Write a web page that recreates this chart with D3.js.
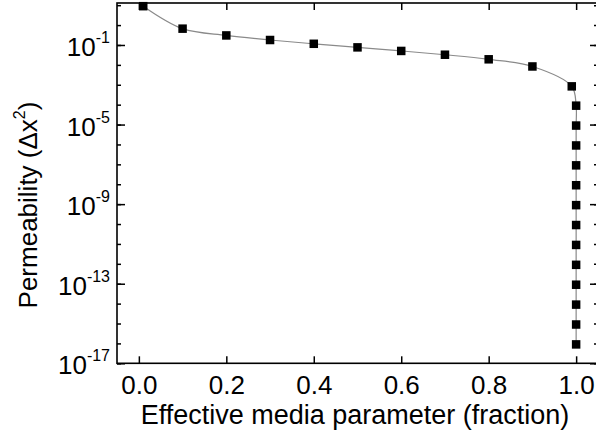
<!DOCTYPE html>
<html>
<head>
<meta charset="utf-8">
<script src="https://cdn.jsdelivr.net/npm/d3@7"></script>
<style>
body { margin: 0; background: #fff; }
text { font-family: Arial, "Liberation Sans", sans-serif; fill: #000; }
</style>
</head>
<body>
<div id="chart"></div>
<script>
var widthPage = 596;
var heightPage = 437;

// data
var fraction = [0.01, 0.1, 0.2, 0.3, 0.4, 0.5, 0.6, 0.7, 0.8, 0.9, 0.99,
                1, 1, 1, 1, 1, 1, 1, 1, 1, 1, 1, 1, 1];
var logPerm = [0.95, -0.18, -0.52, -0.75, -0.94, -1.12, -1.3, -1.49, -1.72, -2.08, -3.08,
               -4.05, -5.05, -6.05, -7.05, -8.05, -9.05, -10.05, -11.05, -12.05, -13.05, -14.05, -15.05, -16.05];
var xTicks = [0, 0.2, 0.4, 0.6, 0.8, 1.0];
var yMajor = [-1, -5, -9, -13, -17];
var yMinor = d3.range(-17, 2);

var plot = d3.select("#chart").append("svg").attr("width", widthPage).attr("height", heightPage);

var x = d3.scaleLinear().domain([-0.05, 1.05]).range([117, 598]);
var y = d3.scaleLog().domain([1e-17, Math.pow(10, 1.11)]).range([363.3, 3]);

var data = fraction.map(function(f, i){ return {x: f, y: Math.pow(10, logPerm[i])}; });

// curve
var line = d3.line().x(d => x(d.x)).y(d => y(d.y)).curve(d3.curveCatmullRom.alpha(0.5));
plot.append("path").datum(data).attr("d", line)
    .attr("fill", "none").attr("stroke", "#8a8a8a").attr("stroke-width", 1.2);

// markers
plot.selectAll("rect.pt").data(data).enter().append("rect").classed("pt", true)
    .attr("x", d => x(d.x) - 4.25).attr("y", d => y(d.y) - 4.25)
    .attr("width", 8.5).attr("height", 8.5).attr("fill", "#000");

// frame
plot.append("rect").attr("x", x.range()[0]).attr("y", y.range()[1])
    .attr("width", x.range()[1] - x.range()[0]).attr("height", y.range()[0] - y.range()[1])
    .attr("fill", "none").attr("stroke", "#000").attr("stroke-width", 1.6);

// x ticks: bottom and top, pointing inward
var xb = plot.append("g").attr("transform", `translate(0,${y.range()[0]})`)
    .call(d3.axisBottom(x).tickValues(xTicks).tickSizeInner(-7).tickSizeOuter(0).tickPadding(12).tickFormat(d3.format(".1f")));
var xt = plot.append("g").attr("transform", `translate(0,${y.range()[1]})`)
    .call(d3.axisTop(x).tickValues(xTicks).tickSizeInner(-7).tickSizeOuter(0).tickFormat(""));

// y ticks: left and right
var yl = plot.append("g").attr("transform", `translate(${x.range()[0]},0)`)
    .call(d3.axisLeft(y).tickValues(yMinor.map(p => Math.pow(10, p))).tickSizeInner(-4).tickSizeOuter(0).tickFormat(""));
var yr = plot.append("g").attr("transform", `translate(${x.range()[1]},0)`)
    .call(d3.axisRight(y).tickValues(yMinor.map(p => Math.pow(10, p))).tickSizeInner(-4).tickSizeOuter(0).tickFormat(""));
plot.append("g").attr("transform", `translate(${x.range()[0]},0)`)
    .call(d3.axisLeft(y).tickValues(yMajor.map(p => Math.pow(10, p))).tickSizeInner(-8).tickSizeOuter(0).tickFormat(""));
plot.append("g").attr("transform", `translate(${x.range()[1]},0)`)
    .call(d3.axisRight(y).tickValues(yMajor.map(p => Math.pow(10, p))).tickSizeInner(-8).tickSizeOuter(0).tickFormat(""));

plot.selectAll(".domain").remove();
plot.selectAll(".tick line").attr("stroke", "#000").attr("stroke-width", 1.5);
xb.selectAll("text").attr("font-size", "26px").attr("font-family", "Arial, 'Liberation Sans', sans-serif");

// y tick labels 10^n
var ylab = plot.append("g");
yMajor.forEach(function(p){
    var t = ylab.append("text").attr("x", 110).attr("y", y(Math.pow(10, p)) + 11)
        .attr("text-anchor", "end").attr("font-size", "26px");
    t.append("tspan").text("10");
    t.append("tspan").attr("font-size", "16px").attr("dy", -13).text(String(p));
});

// axis titles
plot.append("text").attr("x", 355).attr("y", 424).attr("text-anchor", "middle")
    .attr("font-size", "27px").text("Effective media parameter (fraction)");
var yt = plot.append("text").attr("transform", "translate(37,205) rotate(-90)")
    .attr("text-anchor", "middle").attr("font-size", "26px");
yt.append("tspan").text("Permeability (\u0394x");
yt.append("tspan").attr("font-size", "16px").attr("dy", -12).text("2");
yt.append("tspan").attr("dy", 12).text(")");
</script>
</body>
</html>
